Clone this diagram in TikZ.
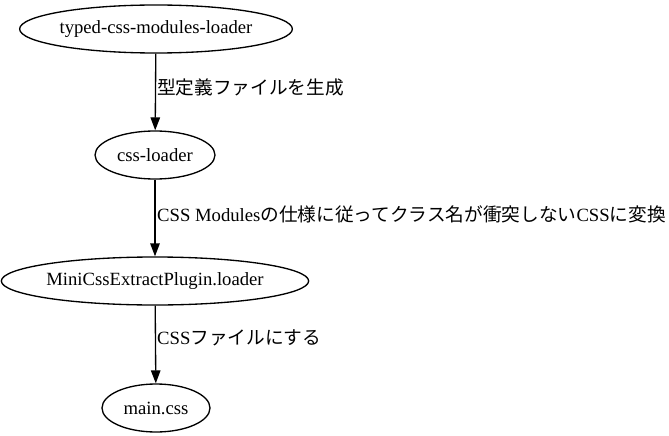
\documentclass[tikz,border=0pt]{standalone}
\usepackage{fontspec}
\setmainfont{Liberation Serif}
\newfontfamily\jp{Noto Sans CJK JP}
\usetikzlibrary{shapes.geometric,arrows.meta}
\begin{document}
\begin{tikzpicture}[x=1pt,y=-1pt,
  every node/.style={font=\fontsize{18.67}{22}\selectfont},
  nd/.style={ellipse,draw,line width=1.33pt,inner sep=0pt,minimum height=48pt},
  edge/.style={line width=1.33pt,-{Triangle[length=13pt,width=9.5pt]}},
  lbl/.style={anchor=west,inner sep=0pt}]
\useasboundingbox (0,0) rectangle (669,436);
\node[nd,minimum width=272pt] (a) at (156,29) {typed-css-modules-loader};
\node[nd,minimum width=120pt] (b) at (155,155) {css-loader};
\node[nd,minimum width=298pt] (c) at (155,281) {MiniCssExtractPlugin.loader};
\node[nd,minimum width=108pt] (d) at (156,408) {main.css};
\draw[edge] (a) -- (b);
\draw[edge] (b) -- (c);
\draw[edge] (c) -- (d);
\node[lbl] (la) at (157,87) {\jp 型定義ファイルを生成};
\node[lbl] (lb) at (157,214) {CSS Modules{\jp の仕様に従ってクラス名が衝突しない}CSS{\jp に変換}};
\node[lbl] (lc) at (157,338) {CSS{\jp ファイルにする}};
\end{tikzpicture}
\end{document}
